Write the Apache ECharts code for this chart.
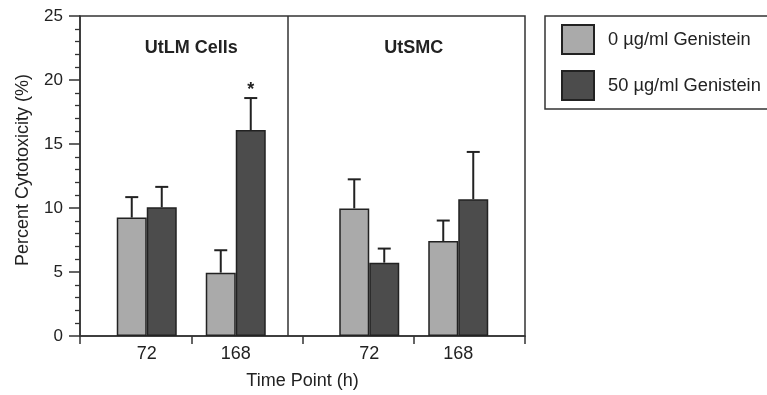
<!DOCTYPE html>
<html>
<head>
<meta charset="utf-8">
<script src="https://cdn.jsdelivr.net/npm/echarts@6/dist/echarts.min.js"></script>
<style>
html,body{margin:0;padding:0;background:#fff;}
#chart{width:767px;height:395px;}
</style>
</head>
<body>
<div id="chart"></div>
<script>
// ---- data ----
const timeLabels = ['72', '168', '72', '168'];
const groupX = [1.5, 3.5, 6.5, 8.5];          // x-axis value of each time-point group
const panelNames = ['UtLM Cells', 'UtSMC'];
const panelX = [2.5, 7.5];
const seriesNames = ['0 \u00b5g/ml Genistein', '50 \u00b5g/ml Genistein'];
const control = [9.25, 4.95, 9.97, 7.42];
const controlErr = [1.6, 1.75, 2.27, 1.6];
const genistein = [10.05, 16.09, 5.73, 10.68];
const genisteinErr = [1.6, 2.5, 1.1, 3.7];
const significance = ['', '*', '', ''];
const xTickValues = [0, 2.5, 5, 7.5, 10];

// ---- chart ----
const FONT = '"Liberation Sans", Arial, Helvetica, sans-serif';
const INK = '#222';
const chart = echarts.init(document.getElementById('chart'), null, {renderer: 'canvas'});

const errData = [];
groupX.forEach((x, i) => {
  errData.push([x, control[i], controlErr[i], -1, '']);
  errData.push([x, genistein[i], genisteinErr[i], 1, significance[i]]);
});

const BAR_W = 30;

chart.setOption({
  animation: false,
  backgroundColor: '#fff',
  textStyle: {fontFamily: FONT},
  grid: {left: 80, right: 242, top: 16, bottom: 59, show: true, borderColor: '#333', borderWidth: 1.5,
         backgroundColor: 'transparent', containLabel: false, outerBoundsMode: 'none'},
  legend: {
    show: true,
    orient: 'vertical',
    left: 545, top: 16,
    padding: [8, 14, 8, 16],
    itemWidth: 32, itemHeight: 29, itemGap: 15,
    borderColor: '#333', borderWidth: 1.5,
    icon: 'rect',
    data: seriesNames,
    textStyle: {fontFamily: FONT, fontSize: 18.3, color: INK, padding: [0, 0, 0, 9]}
  },
  xAxis: {
    type: 'value', min: 0, max: 10,
    name: 'Time Point (h)', nameLocation: 'middle', nameGap: 36,
    nameTextStyle: {fontFamily: FONT, fontSize: 18, color: INK},
    axisLine: {show: true, lineStyle: {color: '#333', width: 1.5}},
    axisTick: {show: true, customValues: xTickValues, length: 8, lineStyle: {color: '#333', width: 1.5}},
    axisLabel: {
      show: true, customValues: groupX, margin: 9,
      fontFamily: FONT, fontSize: 18, color: INK,
      formatter: v => { const i = groupX.indexOf(v); return i >= 0 ? timeLabels[i] : ''; }
    },
    splitLine: {show: false}
  },
  yAxis: {
    type: 'value', min: 0, max: 25, interval: 5,
    name: 'Percent Cytotoxicity (%)', nameLocation: 'middle', nameGap: 48,
    nameTextStyle: {fontFamily: FONT, fontSize: 18, color: INK, padding: [0, 0, 0, 12]},
    axisLine: {show: true, lineStyle: {color: '#333', width: 1.5}},
    axisTick: {show: true, length: 11, lineStyle: {color: '#333', width: 1.5}},
    minorTick: {show: true, splitNumber: 5, length: 5, lineStyle: {color: '#333', width: 1.3}},
    axisLabel: {margin: 17, fontFamily: FONT, fontSize: 17, color: INK},
    splitLine: {show: false}
  },
  series: [
    {
      name: seriesNames[0], type: 'bar',
      data: groupX.map((x, i) => [x, control[i]]),
      barWidth: BAR_W, barGap: '0%',
      itemStyle: {color: '#aaaaaa', borderColor: '#222', borderWidth: 1.5},
      markLine: {
        silent: true, symbol: 'none', label: {show: false},
        lineStyle: {color: '#333', width: 1.5, type: 'solid'},
        data: [{xAxis: 5}]
      },
      z: 2
    },
    {
      name: seriesNames[1], type: 'bar',
      data: groupX.map((x, i) => [x, genistein[i]]),
      barWidth: BAR_W, barGap: '0%',
      itemStyle: {color: '#4c4c4c', borderColor: '#222', borderWidth: 1.5},
      z: 2
    },
    {
      type: 'custom', name: 'err',
      data: errData,
      z: 3,
      renderItem: function (params, api) {
        const x = api.value(0), v = api.value(1), e = api.value(2), side = api.value(3);
        const sig = errData[params.dataIndex][4];
        const p0 = api.coord([x, v]);
        const p1 = api.coord([x, v + e]);
        const cx = p0[0] + side * BAR_W / 2;
        const children = [
          {type: 'line', shape: {x1: cx, y1: p0[1], x2: cx, y2: p1[1]}, style: {stroke: '#222', lineWidth: 2}},
          {type: 'line', shape: {x1: cx - 6.5, y1: p1[1], x2: cx + 6.5, y2: p1[1]}, style: {stroke: '#222', lineWidth: 2}}
        ];
        if (sig) {
          children.push({type: 'text', style: {text: sig, x: cx, y: p1[1] - 8, align: 'center', verticalAlign: 'middle', fontFamily: FONT, fontSize: 18, fontWeight: 'bold', fill: INK}});
        }
        return {type: 'group', children: children};
      }
    },
    {
      type: 'custom', name: 'panels',
      data: panelX.map((x, i) => [x, 25, i]),
      z: 3,
      renderItem: function (params, api) {
        const p = api.coord([api.value(0), api.value(1)]);
        return {type: 'text', style: {text: panelNames[api.value(2)], x: p[0], y: p[1] + 32, align: 'center', verticalAlign: 'middle', fontFamily: FONT, fontSize: 18, fontWeight: 'bold', fill: INK}};
      }
    }
  ]
});
</script>
</body>
</html>
